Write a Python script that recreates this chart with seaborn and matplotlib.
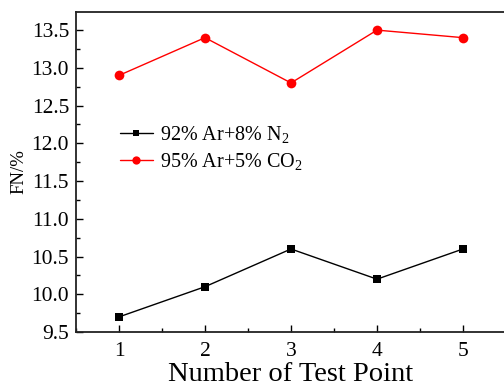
import matplotlib
matplotlib.use("Agg")
import matplotlib.pyplot as plt
import seaborn as sns
import pandas as pd
from matplotlib.ticker import MultipleLocator

test_points = [1, 2, 3, 4, 5]
fn_n2 = [9.7, 10.1, 10.6, 10.2, 10.6]
fn_co2 = [12.9, 13.4, 12.8, 13.5, 13.4]
label_n2 = r"92% Ar+8% N$_2$"
label_co2 = r"95% Ar+5% CO$_2$"

sns.set_style("ticks")
plt.rcParams["font.family"] = ["Liberation Serif", "DejaVu Serif"]
plt.rcParams["mathtext.fontset"] = "custom"
plt.rcParams["mathtext.rm"] = "Liberation Serif"
plt.rcParams["mathtext.it"] = "Liberation Serif:italic"
plt.rcParams["text.color"] = "black"
plt.rcParams["axes.labelcolor"] = "black"
plt.rcParams["xtick.color"] = "black"
plt.rcParams["ytick.color"] = "black"

df_n2 = pd.DataFrame({"x": test_points, "y": fn_n2})
df_co2 = pd.DataFrame({"x": test_points, "y": fn_co2})

fig = plt.figure(figsize=(5.04, 3.90), dpi=100)
ax = fig.add_axes([76/504, 1-332/390, 430/504, 320/390])

sns.lineplot(data=df_n2, x="x", y="y", ax=ax, color="black", marker="s",
             markersize=5.8, markeredgewidth=0, linewidth=1.0, label=label_n2)
sns.lineplot(data=df_co2, x="x", y="y", ax=ax, color="#ff0000", marker="o",
             markersize=7, markeredgewidth=0, linewidth=1.0, label=label_co2)

ax.set_xlim(0.5, 5.5)
ax.set_ylim(9.5, 13.74)
ax.xaxis.set_major_locator(MultipleLocator(1))
ax.xaxis.set_minor_locator(MultipleLocator(0.5))
ax.yaxis.set_major_locator(MultipleLocator(0.5))
ax.yaxis.set_minor_locator(MultipleLocator(0.25))
ax.tick_params(which="both", direction="in", top=False, right=False)
ax.tick_params(which="major", length=5, width=1, labelsize=15.5)
ax.tick_params(axis="x", which="major", pad=7)
ax.tick_params(axis="y", which="major", pad=5)
ax.tick_params(which="minor", length=3, width=1)
for s in ax.spines.values():
    s.set_linewidth(1.3)
    s.set_color("#222222")

ax.set_xlabel("Number of Test Point", fontsize=20.5, labelpad=1)
ax.set_ylabel("FN/%", fontsize=13.5, labelpad=3)

leg = ax.legend(loc="upper left", bbox_to_anchor=(0.083, 0.676), frameon=False,
                fontsize=14.5, handlelength=1.65, handletextpad=0.35,
                labelspacing=0.3, borderaxespad=0)
for h in leg.legend_handles:
    h.set_markersize(h.get_markersize() * 0.85)

fig.savefig("out.png", dpi=100)
